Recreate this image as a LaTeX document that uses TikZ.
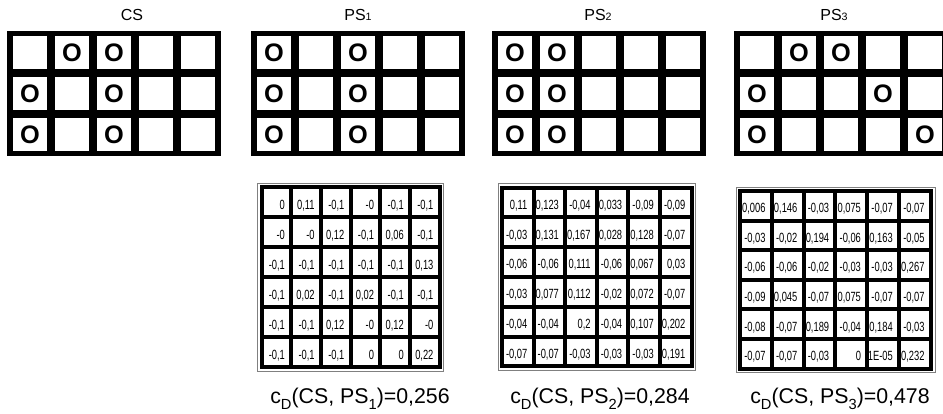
\documentclass[tikz,border=0pt]{standalone}
\usepackage{fontspec}
\setmainfont{Liberation Sans}
\newfontfamily\narrowfont[FakeStretch=0.7]{Liberation Sans}

\tikzset{
  glabel/.style={font=\fontsize{12}{14}\selectfont},
  ocell/.style={font=\fontsize{19}{20}\selectfont\bfseries, inner sep=0pt},
  cellval/.style={font=\narrowfont\fontsize{10}{11}\selectfont, anchor=base east, inner sep=0pt},
  formula/.style={font=\fontsize{16}{18}\selectfont, anchor=base}
}
\newcommand{\lowsub}[1]{\raisebox{-0.3em}{\fontsize{11}{11}\selectfont #1}}

% #1 name, #2 x0, #3 y0, #4 column pitch, #5 row pitch, #6 rows of values
\newcommand{\valmatrix}[6]{
        \pgfmathsetmacro{\gp}{4}
        \draw[gray, line width=0.4pt] ({#2-2},{#3-2}) rectangle ++({6*#4+\gp+4},{6*#5+\gp+4});
        \fill (#2,#3) rectangle ++({6*#4+\gp},{6*#5+\gp});
        \foreach \i in {0,...,5}
          \foreach \j in {0,...,5}
            \fill[white] ({#2+\gp+\i*#4},{#3+\gp+\j*#5}) rectangle ++({#4-\gp},{#5-\gp});
        \foreach \rowvals [count=\j from 0] in {#6} {
          \foreach \v [count=\i from 0] in \rowvals
            \node[cellval] (#1-\i-\j) at ({#2+(\i+1)*#4-4},{#3+(\j+1)*#5-6}) {\v};
        }
}

\begin{document}
\begin{tikzpicture}[x=0.75pt, y=-0.75pt]
        \useasboundingbox (0,0) rectangle (943,414);
        % the four 5x3 grids
        \foreach \gx in {7,251,492,734} {
          \fill (\gx,31) rectangle ++(214,125);
          \foreach \i in {0,...,4}
            \foreach \j in {0,...,2}
              \fill[white] ({\gx+6+42*\i},{36+41*\j}) rectangle ++(34,33);
        }
        \node[glabel] (cs) at (132,15) {CS};
        \node[glabel] (ps1) at (358,15) {PS{\fontsize{8}{9}\selectfont 1}};
        \node[glabel] (ps2) at (598,15) {PS{\fontsize{8}{9}\selectfont 2}};
        \node[glabel] (ps3) at (834,15) {PS{\fontsize{8}{9}\selectfont 3}};
        \foreach \gx/\c/\r in {7/2/1, 7/3/1, 7/1/2, 7/3/2, 7/1/3, 7/3/3,
                               251/1/1, 251/3/1, 251/1/2, 251/3/2, 251/1/3, 251/3/3,
                               492/1/1, 492/2/1, 492/1/2, 492/2/2, 492/1/3, 492/2/3,
                               734/2/1, 734/3/1, 734/1/2, 734/4/2, 734/1/3, 734/5/3}
          \node[ocell] (o-\gx-\c-\r) at ({\gx+6+42*(\c-1)+17},{36+41*(\r-1)+16.5}) {O};
        % value matrices
        \valmatrix{m1}{259.5}{185}{29.7}{30}{
          {{0},{0,11},{-0,1},{-0},{-0,1},{-0,1}},
          {{-0},{-0},{0,12},{-0,1},{0,06},{-0,1}},
          {{-0,1},{-0,1},{-0,1},{-0,1},{-0,1},{0,13}},
          {{-0,1},{0,02},{-0,1},{0,02},{-0,1},{-0,1}},
          {{-0,1},{-0,1},{0,12},{-0},{0,12},{-0}},
          {{-0,1},{-0,1},{-0,1},{0},{0},{0,22}}}
        \valmatrix{m2}{500}{185.5}{31.6}{29.8}{
          {{0,11},{0,123},{-0,04},{0,033},{-0,09},{-0,09}},
          {{-0,03},{0,131},{0,167},{0,028},{0,128},{-0,07}},
          {{-0,06},{-0,06},{0,111},{-0,06},{0,067},{0,03}},
          {{-0,03},{0,077},{0,112},{-0,02},{0,072},{-0,07}},
          {{-0,04},{-0,04},{0,2},{-0,04},{0,107},{0,202}},
          {{-0,07},{-0,07},{-0,03},{-0,03},{-0,03},{0,191}}}
        \valmatrix{m3}{738}{189}{31.8}{29.6}{
          {{0,006},{0,146},{-0,03},{0,075},{-0,07},{-0,07}},
          {{-0,03},{-0,02},{0,194},{-0,06},{0,163},{-0,05}},
          {{-0,06},{-0,06},{-0,02},{-0,03},{-0,03},{0,267}},
          {{-0,09},{0,045},{-0,07},{0,075},{-0,07},{-0,07}},
          {{-0,08},{-0,07},{0,189},{-0,04},{0,184},{-0,03}},
          {{-0,07},{-0,07},{-0,03},{0},{1E-05},{0,232}}}
        \node[formula] (cd1) at (360,403) {c\lowsub{D}(CS, PS\lowsub{1})=0,256};
        \node[formula] (cd2) at (600,403) {c\lowsub{D}(CS, PS\lowsub{2})=0,284};
        \node[formula] (cd3) at (840,403) {c\lowsub{D}(CS, PS\lowsub{3})=0,478};
\end{tikzpicture}
\end{document}
